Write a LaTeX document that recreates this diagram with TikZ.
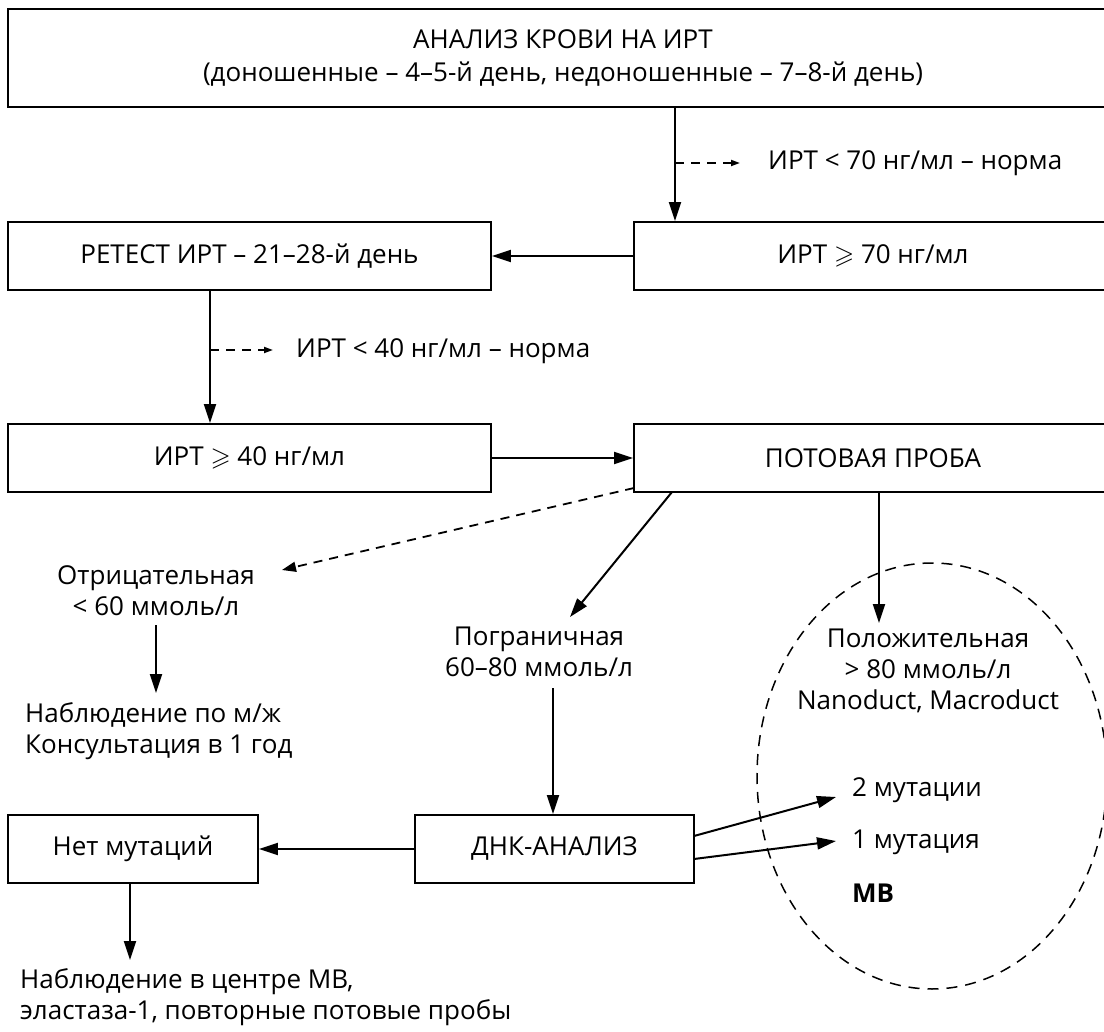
\documentclass[tikz,border=0pt]{standalone}
\usepackage{amssymb}
\usepackage{fontspec}
\setmainfont{Open Sans}
\usetikzlibrary{arrows.meta,shapes.geometric}
\begin{document}
\begin{tikzpicture}[x=1pt,y=-1pt,
  font=\fontsize{26}{31}\selectfont,
  box/.style={draw,line width=1.8pt,inner sep=0pt,anchor=center,align=center},
  txt/.style={inner sep=0pt,align=center},
  arr/.style={line width=2pt,-{Triangle[length=19pt,width=12pt]}},
  darr/.style={line width=1.8pt,dash pattern=on 9pt off 7pt,-{Triangle[length=14pt,width=10pt]}},
  sarr/.style={line width=1.8pt,dash pattern=on 9pt off 7pt,-{Triangle[length=9pt,width=6pt]}}]
\clip (0,0) rectangle (1104,1032);
\fill[white] (0,0) rectangle (1104,1032);
% boxes
\node[box,minimum width=1110pt,minimum height=98pt] (top) at (563,58)
  {АНАЛИЗ КРОВИ НА ИРТ\\[2pt](доношенные – 4–5-й день, недоношенные – 7–8-й день)};
\node[box,minimum width=483pt,minimum height=68pt] (retest) at (249.5,256) {РЕТЕСТ ИРТ – 21–28-й день};
\node[box,minimum width=478pt,minimum height=68pt] (irt70) at (873,256) {ИРТ $\geqslant$ 70 нг/мл};
\node[box,minimum width=483pt,minimum height=68pt] (irt40) at (249.5,458) {ИРТ $\geqslant$ 40 нг/мл};
\node[box,minimum width=478pt,minimum height=68pt] (pot) at (873,458) {ПОТОВАЯ ПРОБА};
\node[box,minimum width=279pt,minimum height=68pt] (dna) at (554.5,849) {ДНК-АНАЛИЗ};
\node[box,minimum width=250pt,minimum height=68pt] (net) at (133,849) {Нет мутаций};
% texts
\node[txt,anchor=west] (n70) at (768,163) {ИРТ < 70 нг/мл – норма};
\node[txt,anchor=west] (n40) at (296,351) {ИРТ < 40 нг/мл – норма};
\node[txt] (otr) at (156,591) {Отрицательная\\< 60 ммоль/л};
\node[txt,align=left,anchor=west] (nabl1) at (25,731) {Наблюдение по м/ж\\Консультация в 1 год};
\node[txt] (pogr) at (539,652) {Пограничная\\60–80 ммоль/л};
\node[txt] (polo) at (928,671) {Положительная\\> 80 ммоль/л\\Nanoduct, Macroduct};
\node[txt,align=left,anchor=west] (nabl2) at (20,997) {Наблюдение в центре МВ,\\эластаза-1, повторные потовые пробы};
\node[txt,anchor=west] (m2) at (852,790) {2 мутации};
\node[txt,anchor=west] (m1) at (852,842) {1 мутация};
\node[txt,anchor=west,font=\fontsize{26}{31}\selectfont\bfseries] (mv) at (852,893) {МВ};
% ellipse
\node[draw,ellipse,line width=1.5pt,dash pattern=on 11pt off 8pt,minimum width=350pt,minimum height=426pt,inner sep=0pt] (ell) at (932,776) {};
% helper coordinates
\coordinate (x675) at (675,0);
\coordinate (b70) at (675,163);
\coordinate (e70) at (740,163);
\coordinate (x210) at (210,0);
\coordinate (b40) at (210,350);
\coordinate (e40) at (273,350);
\coordinate (pd) at (634,488);
\coordinate (otrE) at (282,570);
\coordinate (pp) at (672,492);
\coordinate (pogrE) at (570,617);
\coordinate (x879) at (879,0);
\coordinate (poloE) at (879,623);
\coordinate (otrB) at (156,625);
\coordinate (nablT) at (156,693);
\coordinate (pogrB) at (553,688);
\coordinate (x130) at (130,0);
\coordinate (nabl2T) at (130,960);
\coordinate (d1) at (694,836);
\coordinate (d2) at (694,859);
\coordinate (m2E) at (836,797);
\coordinate (m1E) at (836,841);
% connectors
\draw[arr] (top.south -| x675) -- (irt70.north -| x675);
\draw[sarr] (b70) -- (e70);
\draw[arr] (irt70.west) -- (retest.east);
\draw[arr] (retest.south -| x210) -- (irt40.north -| x210);
\draw[sarr] (b40) -- (e40);
\draw[arr] (irt40.east) -- (pot.west);
\draw[darr] (pd) -- (otrE);
\draw[arr] (pp) -- (pogrE);
\draw[arr] (pot.south -| x879) -- (poloE);
\draw[arr] (otrB) -- (nablT);
\draw[arr] (pogrB) -- (dna.north -| pogrB);
\draw[arr] (dna.west) -- (net.east);
\draw[arr] (net.south -| x130) -- (nabl2T);
\draw[arr] (d1) -- (m2E);
\draw[arr] (d2) -- (m1E);
\end{tikzpicture}
\end{document}
